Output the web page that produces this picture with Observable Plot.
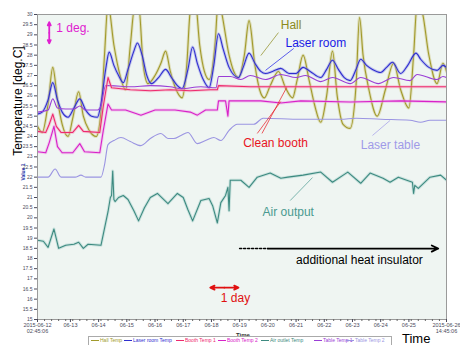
<!DOCTYPE html>
<html><head><meta charset="utf-8">
<script src="https://cdn.jsdelivr.net/npm/d3@7"></script>
<script src="https://cdn.jsdelivr.net/npm/@observablehq/plot@0.6"></script>
<style>
body{margin:0;background:#fff;font-family:"Liberation Sans",Arial,sans-serif;}
#wrap{position:relative;width:460px;height:345px;overflow:hidden;}
.ov{position:absolute;white-space:nowrap;line-height:1;}
.leg{position:absolute;left:88px;top:336px;width:302px;height:12px;border:1px solid #aaa;background:#fff;font-size:5px;line-height:1;}
.leg span{position:absolute;top:1px;white-space:nowrap;}
.leg i{display:inline-block;width:8px;height:0;border-top:1px solid;vertical-align:middle;margin-right:1px;}
</style></head><body><div id="wrap"></div>
<script>
// hours since 2015-06-12 02:45:06, temperature [deg.C]
const hall = [[0,24.5],[4,24.2],[9,25.6],[13,27.4],[17,25.8],[21,24.6],[26,24.0],[30,24.9],[35,26.2],[39,25.0],[44,24.3],[50,24.0],[54,25.2],[57,28.0],[60,30.5],[65,28.5],[69,27.3],[75,26.3],[79,28.5],[83,30.5],[86,30.5],[90,27.5],[94,26.6],[100,27.0],[105,27.6],[109,28.2],[113,27.2],[118,26.3],[123,25.9],[127,27.5],[130,30.2],[134,30.8],[138,28.5],[142,27.2],[146,26.8],[151,28.5],[154,30.8],[157,30.0],[163,28.0],[167,27.2],[171,26.9],[176,28.0],[180,29.7],[185,27.5],[189,26.3],[193,25.9],[198,26.5],[205,27.2],[211,26.4],[217,25.9],[221,26.8],[226,28.0],[231,26.8],[236,25.5],[241,24.7],[246,26.0],[251,28.2],[255,26.0],[260,24.6],[266,24.4],[271,26.5],[274,29.85],[277,28.0],[282,26.3],[289,25.0],[296,26.3],[303,27.6],[309,26.3],[316,25.4],[320,28.0],[323,30.5],[327,30.2],[333,28.0],[340,26.6],[345,27.6],[348,27.2]];
const laserRoom = [[0,25.1],[4,25.2],[9,25.8],[13,26.65],[17,25.8],[21,25.2],[26,24.95],[31,25.4],[36,25.85],[41,25.3],[46,25.0],[51,24.95],[54,25.6],[58,27.3],[61,28.15],[65,27.5],[69,27.0],[73,26.65],[77,27.3],[82,28.2],[85,28.6],[89,28.0],[93,27.0],[97,26.6],[103,26.9],[109,27.3],[114,26.9],[119,26.5],[123,26.35],[128,27.3],[132,28.4],[136,27.6],[141,26.8],[146,26.4],[150,27.5],[154,29.05],[158,28.3],[163,27.4],[171,26.9],[175,27.4],[180,28.1],[185,27.6],[190,27.2],[194,27.1],[200,27.2],[207,27.35],[214,27.1],[220,27.1],[226,27.4],[232,27.2],[241,26.9],[246,27.3],[251,27.75],[256,27.3],[261,26.9],[266,26.75],[271,27.3],[275,27.8],[280,27.5],[285,27.3],[292,27.15],[297,27.4],[302,27.65],[309,27.1],[315,27.5],[322,28.1],[326,27.8],[333,27.4],[340,27.25],[345,27.5],[348,27.4]];
const booth1 = [[0,24.25],[7,24.2],[10,24.6],[13,25.1],[16,24.5],[20,24.2],[30,24.2],[35,24.55],[39,24.25],[53,24.2],[56,25.5],[60,26.9],[63,26.4],[79,26.3],[96,26.25],[113,26.3],[130,26.25],[147,26.3],[153,26.3],[154,26.5],[181,26.45],[224,26.45],[266,26.45],[309,26.45],[348,26.45]];
const booth2 = [[0,23.25],[7,23.2],[10,23.7],[14,24.5],[17,23.5],[21,23.2],[30,23.2],[36,23.65],[40,23.25],[53,23.2],[56,24.3],[60,25.6],[63,25.3],[75,25.3],[88,25.05],[100,25.3],[117,25.3],[130,25.2],[136,25.05],[143,25.3],[153,25.3],[154,25.75],[160,25.75],[162,25.0],[163,25.75],[190,25.75],[207,25.65],[224,25.75],[266,25.7],[309,25.75],[348,25.7]];
const airOutlet = [[0,18.9],[5,18.85],[9,18.55],[14,19.45],[18,18.5],[24,18.65],[31,18.7],[35,18.8],[39,18.5],[43,18.7],[54,18.65],[56,19.2],[60,20.3],[62,21.0],[63,21.1],[64,22.3],[65,20.9],[66,20.8],[69,21.0],[73,21.1],[77,20.9],[82,20.35],[86,19.85],[91,20.5],[96,21.0],[102,21.2],[111,20.7],[119,21.2],[124,21.0],[128,20.4],[132,19.85],[139,20.85],[146,20.95],[149,20.6],[153,19.75],[156,20.75],[160,21.1],[162,21.5],[163,20.35],[164,21.85],[173,21.85],[180,21.5],[187,22.0],[198,22.2],[207,21.95],[213,22.0],[226,22.1],[241,22.25],[251,21.75],[264,22.25],[275,21.7],[283,22.2],[294,21.95],[300,21.75],[307,22.0],[319,21.75],[320,21.2],[321,21.6],[324,21.45],[334,22.0],[343,22.1],[348,21.85]];
const table1 = [[0,25.2],[9,25.3],[13,25.85],[17,25.4],[24,25.35],[31,25.35],[36,25.5],[41,25.3],[51,25.3],[54,25.5],[58,26.5],[62,26.5],[79,26.45],[96,26.5],[113,26.45],[122,26.35],[139,26.45],[152,26.4],[154,26.95],[164,26.95],[173,26.8],[181,27.0],[194,26.8],[207,27.05],[220,26.9],[228,27.0],[241,26.7],[251,26.9],[266,26.6],[275,26.9],[290,26.6],[303,26.9],[317,26.75],[323,27.05],[340,26.8],[345,26.95],[348,26.9]];
const table2 = [[0,22.0],[9,22.0],[15,22.4],[20,22.0],[32,22.0],[37,22.1],[41,22.0],[54,22.0],[57,22.6],[60,23.6],[65,23.8],[71,23.95],[79,23.75],[88,23.55],[96,23.9],[105,24.15],[111,23.9],[116,23.9],[122,24.05],[128,24.2],[136,23.65],[143,23.8],[150,23.95],[156,23.8],[163,24.3],[170,24.6],[184,24.6],[192,24.9],[224,24.85],[258,24.85],[271,24.9],[292,24.85],[317,24.8],[326,24.7],[334,24.8],[348,24.8]];

const seriesNames = ["Hall Temp","Laser room Temp","Booth Temp 1","Booth Temp 2","Air outlet Temp","Table Temp 1","Table Temp 2"];
const yTicks = [15,15.5,16,16.5,17,17.5,18,18.5,19,19.5,20,20.5,21,21.5,22,22.5,23,23.5,24,24.5,25,25.5,26,26.5,27,27.5,28,28.5,29,29.5,30];
const xTickHours = [0,28,52,76,100,124,148,172,196,220,244,268,292,316,348];
const xTickLabels = ["2015-06-12\n02:45:06","06-13","06-14","06-15","06-16","06-17","06-18","06-19","06-20","06-21","06-22","06-23","06-24","06-25","2015-06-26\n14:45:06"];

const colors = {hall:"#a19a2c", laser:"#2f2fcf", booth1:"#ee2a6e", booth2:"#d822c8", air:"#3d8a80", table1:"#9a3ed6", table2:"#9b95e2"};

const notes = [
  {h:16,v:29.31,text:"1 deg.",c:"#e020d0"},
  {h:207,v:29.46,text:"Hall",c:"#8c8a1c"},
  {h:211,v:28.57,text:"Laser room",c:"#1a1ae6"},
  {h:175,v:23.65,text:"Clean booth",c:"#e8141e"},
  {h:275,v:23.56,text:"Laser table",c:"#a09ae8"},
  {h:191.5,v:20.26,text:"Air output",c:"#4a9a90"},
  {h:220,v:17.9,text:"additional heat insulator",c:"#000"},
  {h:156,v:16.03,text:"1 day",c:"#e01010"}
];
const leaders = [
  {h1:205,v1:29.11,h2:190,v2:27.98,c:"#8c8a1c"},
  {h1:218,v1:28.33,h2:194,v2:27.25,c:"#1a1ae6"},
  {h1:191,v1:24.15,h2:212,v2:26.41,c:"#e8141e"},
  {h1:187,v1:24.15,h2:207,v2:25.72,c:"#e8141e"},
  {h1:285,v1:24.05,h2:300,v2:24.79,c:"#a09ae8"},
  {h1:215,v1:20.85,h2:234,v2:21.98,c:"#4a9a90"}
];
const arrows = [
  {h1:10,v1:29.1,h2:10,v2:29.62,c:"#e020d0"},
  {h1:10,v1:29.1,h2:10,v2:28.58,c:"#e020d0"},
  {h1:159,v1:16.57,h2:147,v2:16.57,c:"#e01010"},
  {h1:159,v1:16.57,h2:171,v2:16.57,c:"#e01010"},
  {h1:196,v1:18.49,h2:341,v2:18.49,c:"#000"}
];
const dotted = [{h:172,v:18.49},{h:196,v:18.49}];

const P = d => d[0], V = d => d[1];
const line = (data, c, halo, curve="linear") => [
  halo ? Plot.line(data, {x:P, y:V, stroke:halo, strokeWidth:3, strokeOpacity:0.45, clip:true, curve}) : null,
  Plot.line(data, {x:P, y:V, stroke:c, strokeWidth:1.1, clip:true, curve})
];
const labelMap = new Map(xTickHours.map((h,i)=>[h,xTickLabels[i]]));

const chart = Plot.plot({
  width:460, height:345,
  marginLeft:37, marginRight:14, marginTop:14, marginBottom:26,
  x:{domain:[0,348]},
  y:{domain:[15,30]},
  style:{background:"transparent", fontFamily:"Liberation Sans, Arial, sans-serif"},
  marks:[
    Plot.frame({fill:"#eff5f2", stroke:null}),
    ...line(hall, colors.hall, "#c9c47a", "monotone-x"),
    ...line(laserRoom, colors.laser, "#8f8fe6", "monotone-x"),
    ...line(table1, colors.table1, null, "monotone-x"),
    ...line(booth1, colors.booth1, "#f59ab8"),
    ...line(booth2, colors.booth2, "#ee9be6"),
    ...line(table2, colors.table2, null, "monotone-x"),
    ...line(airOutlet, colors.air, "#9dccc5"),
    Plot.link(leaders, {x1:"h1", y1:"v1", x2:"h2", y2:"v2", stroke:"c", strokeWidth:0.7}),
    Plot.arrow(arrows, {x1:"h1", y1:"v1", x2:"h2", y2:"v2", stroke:"c", strokeWidth:1.8, headLength:6, headAngle:50}),
    Plot.line(dotted, {x:"h", y:"v", stroke:"#000", strokeWidth:1.6, strokeDasharray:"2,2"}),
    Plot.text(notes, {x:"h", y:"v", text:"text", fill:"c", fontSize:12, textAnchor:"start"}),
    Plot.frame({stroke:"#9a9a9a", strokeWidth:1}),
    Plot.axisY({ticks:yTicks, tickFormat:d=>String(d), tickSize:3, tickPadding:2, fontSize:5, color:"#4a4a5a", label:null}),
    Plot.axisX({ticks:d3.range(0,349,6), tickSize:2, tickFormat:()=>"", label:null, color:"#666"}),
    Plot.axisX({ticks:xTickHours, tickFormat:d=>labelMap.get(d), tickSize:3, tickPadding:1, fontSize:5.5, color:"#4a4a5a", label:null})
  ]
});
const wrap = document.getElementById("wrap");
wrap.appendChild(chart);

function ov(html, style){ const d=document.createElement("div"); d.className="ov"; d.innerHTML=html; Object.assign(d.style, style); wrap.appendChild(d); return d; }
ov("Temperature [deg.C]", {left:"18px", top:"101px", fontSize:"12px", color:"#000", transform:"translate(-50%,-50%) rotate(-90deg)"});
ov("Value 1", {left:"23px", top:"172px", fontSize:"5px", fontWeight:"bold", color:"#2233aa", transform:"translate(-50%,-50%) rotate(-90deg)"});
ov("Time", {left:"243px", top:"335px", fontSize:"6px", fontWeight:"bold", color:"#333", transform:"translate(-50%,-50%)"});
ov("Time", {left:"402px", top:"332px", fontSize:"13px", color:"#000"});

const legendColors = [colors.hall, colors.laser, colors.booth1, colors.booth2, colors.air, colors.table1, colors.table2];
const legendLeft = [2, 35, 87, 129, 172, 225, 257];
const leg = document.createElement("div"); leg.className="leg";
seriesNames.forEach((n,i)=>{ const s=document.createElement("span"); s.style.left=legendLeft[i]+"px"; s.style.color=legendColors[i]; s.innerHTML='<i style="border-color:'+legendColors[i]+'"></i>'+n; leg.appendChild(s); });
wrap.appendChild(leg);
</script></body></html>
